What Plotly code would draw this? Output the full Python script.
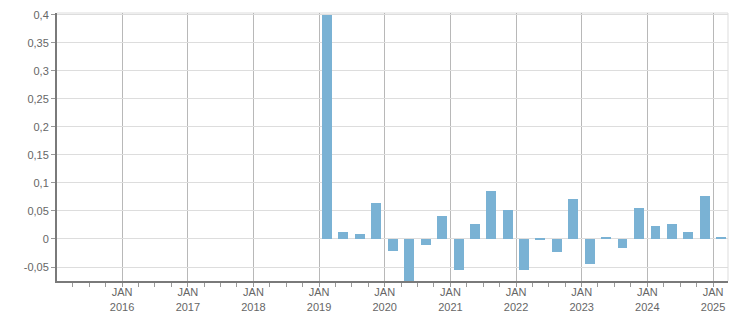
import plotly.graph_objects as go

quarters = [
    "2019-01-01", "2019-04-01", "2019-07-01", "2019-10-01",
    "2020-01-01", "2020-04-01", "2020-07-01", "2020-10-01",
    "2021-01-01", "2021-04-01", "2021-07-01", "2021-10-01",
    "2022-01-01", "2022-04-01", "2022-07-01", "2022-10-01",
    "2023-01-01", "2023-04-01", "2023-07-01", "2023-10-01",
    "2024-01-01", "2024-04-01", "2024-07-01", "2024-10-01",
    "2025-01-01",
]
values = [
    0.40, 0.013, 0.009, 0.064,
    -0.021, -0.076, -0.010, 0.041,
    -0.055, 0.027, 0.085, 0.052,
    -0.055, -0.001, -0.0225, 0.071,
    -0.044, 0.002, -0.0155, 0.055,
    0.023, 0.027, 0.0125, 0.0765,
    0.002,
]

year_ticks = ["2016-01-01", "2017-01-01", "2018-01-01", "2019-01-01", "2020-01-01",
              "2021-01-01", "2022-01-01", "2023-01-01", "2024-01-01", "2025-01-01"]
year_labels = ["JAN<br>2016", "JAN<br>2017", "JAN<br>2018", "JAN<br>2019", "JAN<br>2020",
               "JAN<br>2021", "JAN<br>2022", "JAN<br>2023", "JAN<br>2024", "JAN<br>2025"]

y_ticks = [-0.05, 0, 0.05, 0.1, 0.15, 0.2, 0.25, 0.3, 0.35, 0.4]
y_labels = ["-0,05", "0", "0,05", "0,1", "0,15", "0,2", "0,25", "0,3", "0,35", "0,4"]

DAY_MS = 86400000

fig = go.Figure(go.Bar(
    x=quarters,
    y=values,
    xperiod="M3",
    xperiodalignment="middle",
    width=55 * DAY_MS,
    marker=dict(color="#7ab2d4", line=dict(width=0)),
    hoverinfo="x+y",
))

fig.update_layout(
    width=751,
    height=313,
    margin=dict(l=57, r=23, t=13, b=32),
    paper_bgcolor="white",
    plot_bgcolor="white",
    showlegend=False,
    font=dict(family="Liberation Sans, Arial, sans-serif", size=11, color="#666666"),
    bargap=0,
    shapes=[
        dict(type="line", xref="paper", yref="paper", x0=0, x1=1, y0=1, y1=1,
             line=dict(color="#dddddd", width=1), layer="below"),
        dict(type="line", xref="paper", yref="paper", x0=1, x1=1, y0=0, y1=1,
             line=dict(color="#dddddd", width=1), layer="below"),
    ],
)

fig.update_xaxes(
    type="date",
    automargin=False,
    range=["2015-01-04", "2025-03-25"],
    tickmode="array",
    tickvals=year_ticks,
    ticktext=year_labels,
    ticks="inside",
    ticklen=4,
    tickcolor="#b8b8b8",
    showgrid=True,
    gridcolor="#b8b8b8",
    gridwidth=1,
    showline=True,
    linecolor="#7a7a7a",
    linewidth=2,
    zeroline=False,
    minor=dict(dtick="M3", tick0="2015-01-01", ticks="outside", ticklen=4,
               tickcolor="#999999", showgrid=False),
    tickfont=dict(size=11, color="#666666"),
)

fig.update_yaxes(
    automargin=False,
    range=[-0.075, 0.4035],
    tickmode="array",
    tickvals=y_ticks,
    ticktext=y_labels,
    ticks="outside",
    ticklen=4,
    tickcolor="#999999",
    showgrid=True,
    gridcolor="#dddddd",
    gridwidth=1,
    showline=True,
    linecolor="#7a7a7a",
    linewidth=2,
    zeroline=False,
    tickfont=dict(size=11, color="#666666"),
)

fig.write_html("out.html")
